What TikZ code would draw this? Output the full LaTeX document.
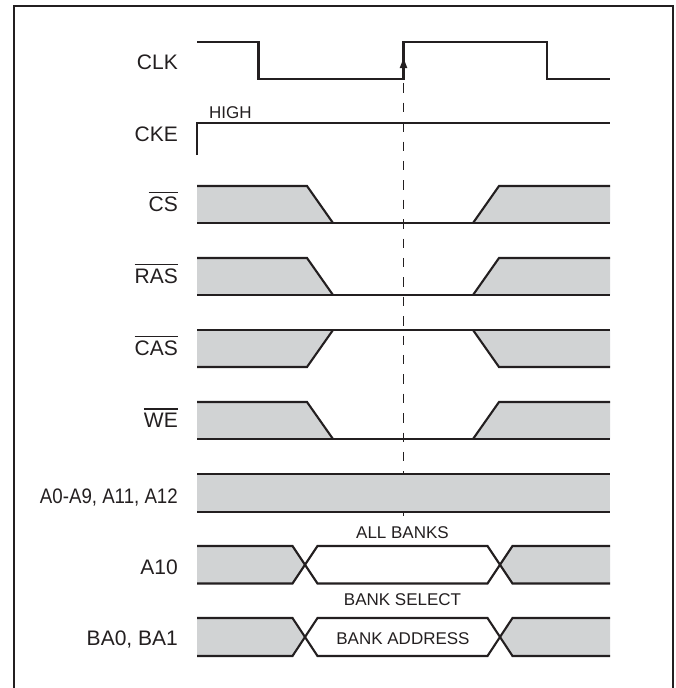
\documentclass[tikz,border=0pt]{standalone}
\usepackage{fontspec}
\usepackage{graphicx}
\setmainfont{Liberation Sans}
\usetikzlibrary{arrows.meta}
\definecolor{ink}{HTML}{231F20}
\definecolor{band}{HTML}{D1D3D4}
\newcommand\ovbar[1]{\vbox{\hrule height 1.4pt\kern 3.4pt\hbox{#1}}}
\begin{document}
\begin{tikzpicture}[x=1pt,y=-1pt,line join=miter,
  frame/.style={draw=ink,line width=2pt},
  wave/.style={draw=ink,line width=2.1pt},
  thinwave/.style={draw=ink,line width=1.3pt},
  guide/.style={draw=ink,line width=1.8pt,dash pattern=on 9.5pt off 9.9pt},
  sig/.style={anchor=base east,text=ink,font=\fontsize{21}{24}\selectfont,inner sep=0pt},
  note/.style={anchor=base,text=ink,font=\fontsize{17}{20}\selectfont,inner sep=0pt},
  edgearrow/.style={draw=ink,line width=2.1pt,-{Triangle[length=10pt,width=7pt]}}]
\useasboundingbox (0,0) rectangle (676,688);
% frame
\draw[frame] (14,690) -- (14,6) -- (673,6) -- (673,690);

% signal labels
\node[sig] (lclk) at (178,69) {CLK};
\node[sig] (lcke) at (178,141) {CKE};
\node[sig] (lcs)  at (178,211.5) {\ovbar{CS}};
\node[sig] (lras) at (178,283.5) {\ovbar{RAS}};
\node[sig] (lcas) at (178,355.5) {\ovbar{CAS}};
\node[sig] (lwe)  at (178,427.5) {\ovbar{WE}};
\node[sig] (laddr) at (178,503.3) {\scalebox{0.89}[1]{A0-A9, A11, A12}};
\node[sig] (la10) at (178,574.5) {A10};
\node[sig] (lba)  at (178,645.5) {BA0, BA1};

% guide line from the rising clock edge
\coordinate (edgeLow) at (403.5,83.3);
\coordinate (dashEnd) at (403.5,516);
\draw[guide] (edgeLow) -- (dashEnd);

% CLK
\draw[wave] (197,42) -- (258.5,42) -- (258.5,79) -- (403.5,79) -- (403.5,42) -- (547,42) -- (547,79) -- (610,79);
\draw[edgearrow] (403.5,79) -- (403.5,58);

% CKE
\draw[wave] (197,155) -- (197,123) -- (610,123);

% active-low strobes going low (CS, RAS, WE)
\foreach \t in {186,258,402}{
  \pgfmathsetmacro\b{\t+37}
  \fill[band] (197,\t) -- (307,\t) -- (333,\b) -- (197,\b) -- cycle;
  \fill[band] (473,\b) -- (499,\t) -- (610,\t) -- (610,\b) -- cycle;
  \draw[thinwave] (333,\b) -- (473,\b);
  \draw[wave] (197,\t) -- (307,\t) -- (333,\b);
  \draw[wave] (197,\b) -- (333,\b);
  \draw[wave] (473,\b) -- (499,\t) -- (610,\t);
  \draw[wave] (473,\b) -- (610,\b);
}
% CAS stays high
\fill[band] (197,330) -- (333,330) -- (307,367) -- (197,367) -- cycle;
\fill[band] (473,330) -- (499,367) -- (610,367) -- (610,330) -- cycle;
\draw[thinwave] (333,330) -- (473,330);
\draw[wave] (197,367) -- (307,367) -- (333,330);
\draw[wave] (197,330) -- (333,330);
\draw[wave] (473,330) -- (499,367) -- (610,367);
\draw[wave] (473,330) -- (610,330);

% A0-A9, A11, A12
\fill[band] (197,474) rectangle (610,512);
\draw[wave] (197,474) -- (610,474);
\draw[wave] (197,512) -- (610,512);

% A10 and BA0, BA1 buses
\foreach \t/\b in {546/583.5,618/656}{
  \pgfmathsetmacro\m{(\t+\b)/2}
  \fill[band] (197,\t) -- (292.5,\t) -- (305,\m) -- (292.5,\b) -- (197,\b) -- cycle;
  \fill[white] (317.5,\t) -- (487.5,\t) -- (500,\m) -- (487.5,\b) -- (317.5,\b) -- (305,\m) -- cycle;
  \fill[band] (610,\t) -- (512.5,\t) -- (500,\m) -- (512.5,\b) -- (610,\b) -- cycle;
  \draw[wave] (197,\t) -- (292.5,\t) -- (317.5,\b) -- (487.5,\b) -- (512.5,\t) -- (610,\t);
  \draw[wave] (197,\b) -- (292.5,\b) -- (317.5,\t) -- (487.5,\t) -- (512.5,\b) -- (610,\b);
}

% annotations
\node[note,anchor=base west] (nhigh) at (209,118.3) {HIGH};
\node[note] (nall) at (402.5,538.3) {ALL BANKS};
\node[note] (nsel) at (402.5,605) {BANK SELECT};
\node[note] (nbank) at (403,644.3) {BANK ADDRESS};
\end{tikzpicture}
\end{document}
